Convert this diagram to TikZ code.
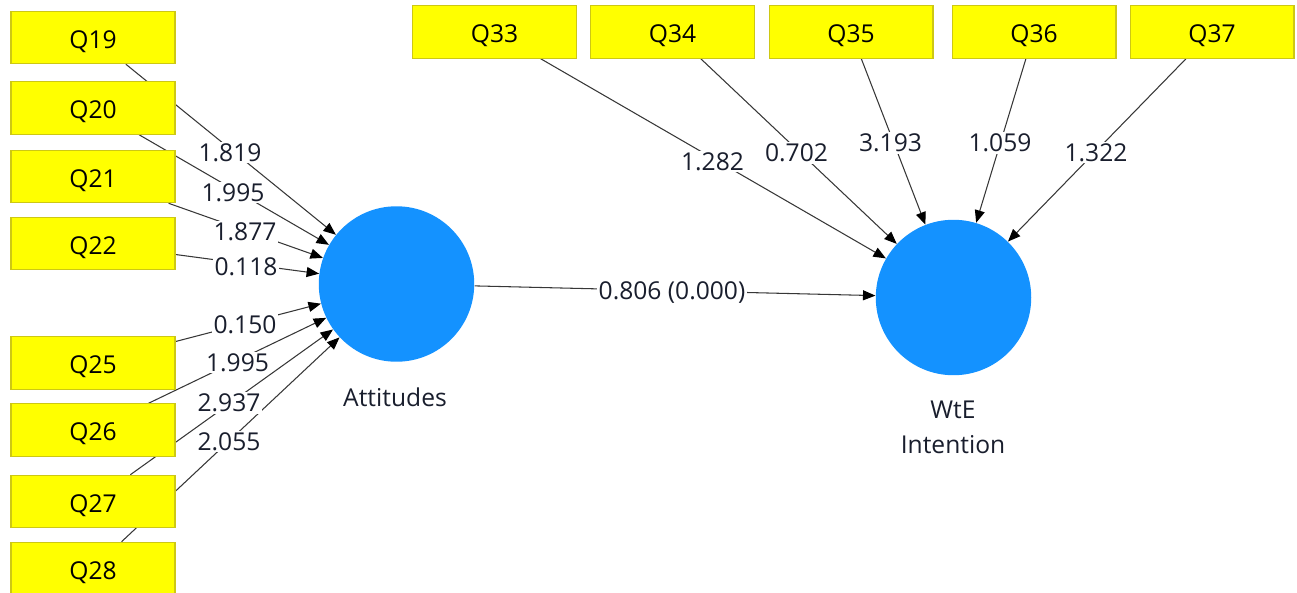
\documentclass[tikz,border=0pt]{standalone}
\usepackage{fontspec}
\setmainfont{Open Sans}
\usetikzlibrary{arrows.meta,backgrounds}
\definecolor{itemfill}{RGB}{255,255,0}
\definecolor{itemedge}{RGB}{205,200,20}
\definecolor{lvfill}{RGB}{20,146,255}
\definecolor{linkgray}{RGB}{55,55,55}
\definecolor{textdark}{RGB}{25,30,45}
\begin{document}
\begin{tikzpicture}[x=0.02cm,y=-0.02cm,
  item/.style={rectangle, draw=itemedge, fill=itemfill, line width=0.6pt,
    minimum width=3.28cm, minimum height=1.05cm, inner sep=0pt,
    text height=12pt, text depth=0pt,
    font=\fontsize{14}{16}\selectfont},
  latent/.style={circle, fill=lvfill, minimum size=3.11cm, inner sep=0pt},
  link/.style={draw=linkgray, line width=0.6pt,
    -{Triangle[length=2.5mm,width=2mm,color=black]}},
  coef/.style={fill=white, inner sep=1pt, text=textdark,
    font=\fontsize{14}{16}\selectfont},
  lvname/.style={align=center, text=textdark,
    font=\fontsize{14}{20}\selectfont}]

\useasboundingbox (0,0) rectangle (1297,592);

% latent variables
\node[latent] (att) at (396.5,284) {};
\node[latent] (wte) at (953.5,297.5) {};
\node[lvname] (attname) at (395,397) {Attitudes};
\node[lvname] (wtename) at (953,427.5) {WtE\\Intention};

% indicators of Attitudes
\node[item] (q19) at (93,37.5) {Q19};
\node[item] (q20) at (93,108) {Q20};
\node[item] (q21) at (93,176.5) {Q21};
\node[item] (q22) at (93,243.5) {Q22};
\node[item] (q25) at (93,363) {Q25};
\node[item] (q26) at (93,430) {Q26};
\node[item] (q27) at (93,501.5) {Q27};
\node[item] (q28) at (93,568.5) {Q28};

% indicators of WtE Intention
\node[item] (q33) at (494.5,32) {Q33};
\node[item] (q34) at (672.5,32) {Q34};
\node[item] (q35) at (851,32) {Q35};
\node[item] (q36) at (1034,32) {Q36};
\node[item] (q37) at (1212,32) {Q37};

% coefficients
\node[coef] (c19) at (230,152.5) {1.819};
\node[coef] (c20) at (233,192.5) {1.995};
\node[coef] (c21) at (245,232) {1.877};
\node[coef] (c22) at (246,267) {0.118};
\node[coef] (c25) at (245,325) {0.150};
\node[coef] (c26) at (237.5,362.5) {1.995};
\node[coef] (c27) at (229,403) {2.937};
\node[coef] (c28) at (229,441.5) {2.055};

\node[coef] (c33) at (712.5,161.5) {1.282};
\node[coef] (c34) at (796.5,153) {0.702};
\node[coef] (c35) at (890.5,143) {3.193};
\node[coef] (c36) at (1000,143) {1.059};
\node[coef] (c37) at (1096,152.5) {1.322};

\node[coef] (cpath) at (672,293) {0.806 (0.000)};

% connectors, kept beneath boxes and labels
\begin{pgfonlayer}{background}
  \foreach \q in {q19,q20,q21,q22,q25,q26,q27,q28}
    \draw[link] (\q) -- (att);
  \foreach \q in {q33,q34,q35,q36,q37}
    \draw[link] (\q) -- (wte);
  \draw[link] (att) -- (wte);
\end{pgfonlayer}
\end{tikzpicture}
\end{document}
